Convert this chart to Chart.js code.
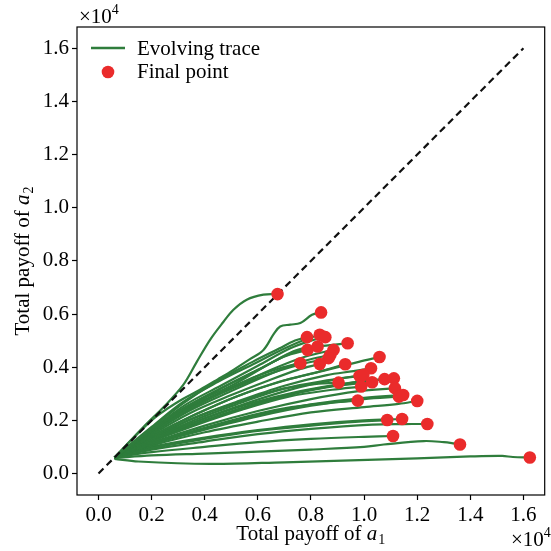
<!DOCTYPE html>
<html>
<head>
<meta charset="utf-8">
<script src="https://cdn.jsdelivr.net/npm/chart.js@4"></script>
<style>
  html, body { margin: 0; padding: 0; background: #fff; }
  canvas { display: block; }
</style>
</head>
<body>
<canvas id="payoffChart" width="551" height="551"></canvas>
<script>
// Ticks shared by both axes (values in units of 10^4)
const tickValues = [0.0, 0.2, 0.4, 0.6, 0.8, 1.0, 1.2, 1.4, 1.6];

// Diagonal reference a1 = a2
const diagX = [0.0, 1.6];
const diagY = [0.0, 1.6];

// Payoff trajectories [a1, a2]; the last pair of each is the final point
const traces = [
  [[0.06,0.06],[0.17,0.176],[0.25,0.255],[0.319,0.333],[0.37,0.42],[0.42,0.503],[0.47,0.57],[0.508,0.616],[0.558,0.654],[0.621,0.673],[0.674,0.675]],
  [[0.06,0.06],[0.2,0.2],[0.3,0.27],[0.382,0.315],[0.45,0.355],[0.508,0.39],[0.57,0.43],[0.621,0.465],[0.66,0.525],[0.684,0.553],[0.722,0.56],[0.76,0.566],[0.804,0.597],[0.838,0.606]],
  [[0.06,0.06],[0.2,0.17],[0.32,0.265],[0.45,0.35],[0.58,0.42],[0.68,0.47],[0.74,0.5],[0.785,0.513]],
  [[0.06,0.06],[0.2,0.175],[0.32,0.27],[0.45,0.345],[0.58,0.41],[0.7,0.47],[0.78,0.505],[0.833,0.522]],
  [[0.06,0.06],[0.2,0.165],[0.33,0.26],[0.46,0.33],[0.6,0.405],[0.72,0.47],[0.8,0.5],[0.854,0.513]],
  [[0.06,0.06],[0.2,0.16],[0.34,0.255],[0.5,0.33],[0.64,0.41],[0.75,0.465],[0.873,0.483],[0.938,0.49]],
  [[0.06,0.06],[0.2,0.16],[0.32,0.245],[0.46,0.32],[0.6,0.39],[0.7,0.44],[0.787,0.465]],
  [[0.06,0.06],[0.2,0.165],[0.33,0.25],[0.48,0.33],[0.62,0.4],[0.72,0.45],[0.825,0.478]],
  [[0.06,0.06],[0.2,0.155],[0.34,0.24],[0.5,0.32],[0.65,0.39],[0.78,0.44],[0.885,0.465]],
  [[0.06,0.06],[0.2,0.15],[0.34,0.235],[0.5,0.31],[0.66,0.38],[0.78,0.425],[0.873,0.446]],
  [[0.06,0.06],[0.2,0.155],[0.33,0.24],[0.48,0.31],[0.63,0.37],[0.76,0.41],[0.866,0.434]],
  [[0.06,0.06],[0.2,0.16],[0.32,0.24],[0.45,0.3],[0.58,0.36],[0.68,0.395],[0.76,0.415]],
  [[0.06,0.06],[0.2,0.145],[0.34,0.225],[0.5,0.295],[0.64,0.35],[0.75,0.39],[0.833,0.412]],
  [[0.06,0.06],[0.2,0.14],[0.36,0.22],[0.52,0.29],[0.68,0.345],[0.82,0.38],[0.873,0.395],[0.929,0.411]],
  [[0.06,0.06],[0.2,0.14],[0.36,0.22],[0.52,0.29],[0.7,0.35],[0.86,0.39],[0.98,0.42],[1.058,0.438]],
  [[0.06,0.06],[0.2,0.135],[0.36,0.21],[0.52,0.27],[0.7,0.33],[0.86,0.37],[0.96,0.385],[1.026,0.396]],
  [[0.06,0.06],[0.2,0.13],[0.36,0.2],[0.52,0.26],[0.7,0.32],[0.86,0.35],[0.983,0.367]],
  [[0.06,0.06],[0.2,0.125],[0.38,0.2],[0.56,0.265],[0.74,0.32],[0.9,0.355],[0.997,0.371]],
  [[0.06,0.06],[0.2,0.12],[0.36,0.18],[0.54,0.24],[0.72,0.29],[0.88,0.315],[0.989,0.327]],
  [[0.06,0.06],[0.2,0.125],[0.38,0.19],[0.56,0.25],[0.74,0.3],[0.9,0.33],[1.03,0.343]],
  [[0.06,0.06],[0.2,0.13],[0.38,0.2],[0.56,0.26],[0.76,0.31],[0.94,0.34],[1.077,0.355]],
  [[0.06,0.06],[0.2,0.125],[0.4,0.2],[0.6,0.265],[0.8,0.315],[0.98,0.345],[1.112,0.358]],
  [[0.06,0.06],[0.2,0.115],[0.4,0.18],[0.6,0.235],[0.8,0.28],[0.98,0.31],[1.116,0.321]],
  [[0.06,0.06],[0.2,0.11],[0.4,0.165],[0.6,0.215],[0.8,0.255],[1.0,0.28],[1.131,0.289]],
  [[0.06,0.06],[0.2,0.115],[0.4,0.17],[0.6,0.22],[0.8,0.26],[1.0,0.285],[1.147,0.295]],
  [[0.06,0.06],[0.2,0.13],[0.34,0.2],[0.5,0.26],[0.66,0.31],[0.8,0.335],[0.904,0.342]],
  [[0.06,0.06],[0.2,0.11],[0.36,0.16],[0.52,0.205],[0.7,0.245],[0.86,0.265],[0.976,0.274]],
  [[0.06,0.06],[0.2,0.105],[0.4,0.155],[0.6,0.195],[0.8,0.23],[1.0,0.25],[1.13,0.262],[1.2,0.273]],
  [[0.06,0.06],[0.2,0.095],[0.4,0.13],[0.6,0.16],[0.8,0.18],[0.98,0.195],[1.087,0.201]],
  [[0.06,0.06],[0.2,0.1],[0.4,0.135],[0.6,0.163],[0.8,0.185],[1.0,0.2],[1.143,0.205]],
  [[0.06,0.06],[0.2,0.09],[0.4,0.12],[0.6,0.148],[0.8,0.168],[1.03,0.184],[1.15,0.186],[1.238,0.186]],
  [[0.06,0.06],[0.2,0.08],[0.4,0.1],[0.6,0.118],[0.8,0.13],[1.0,0.138],[1.109,0.141]],
  [[0.06,0.058],[0.2,0.068],[0.4,0.075],[0.6,0.082],[0.8,0.09],[1.0,0.1],[1.074,0.109],[1.225,0.122],[1.3,0.118],[1.338,0.113],[1.361,0.109]],
  [[0.06,0.055],[0.15,0.045],[0.42,0.036],[0.7,0.042],[0.95,0.049],[1.2,0.057],[1.4,0.064],[1.52,0.066],[1.56,0.062],[1.624,0.06]]
];

const finalX = traces.map(t => t[t.length - 1][0]);
const finalY = traces.map(t => t[t.length - 1][1]);

const GREEN = '#2f7d3c';
const RED = '#ea2b2b';
const SERIF = '"Liberation Serif", "DejaVu Serif", serif';
const FONT_SIZE = 21;

const datasets = [];

datasets.push({
  label: 'Final point',
  data: finalX.map((x, i) => ({ x: x, y: finalY[i] })),
  showLine: false,
  pointRadius: 6.3,
  pointBackgroundColor: RED,
  pointBorderWidth: 0,
  order: 0
});

datasets.push({
  label: 'diagonal',
  data: diagX.map((x, i) => ({ x: x, y: diagY[i] })),
  showLine: true,
  borderColor: '#111',
  borderWidth: 2.2,
  borderDash: [7, 4.5],
  pointRadius: 0,
  order: 1
});

traces.forEach((t, i) => {
  datasets.push({
    label: i === 0 ? 'Evolving trace' : '',
    data: t.map(p => ({ x: p[0], y: p[1] })),
    showLine: true,
    borderColor: GREEN,
    borderWidth: 2.2,
    tension: 0.35,
    pointRadius: 0,
    order: 2
  });
});

// white page, frame, axis titles, offset labels and legend
const decorations = {
  id: 'decorations',
  beforeDraw(chart) {
    const c = chart.ctx;
    c.save();
    c.fillStyle = '#fff';
    c.fillRect(0, 0, chart.width, chart.height);
    c.restore();
  },
  afterDraw(chart) {
    const c = chart.ctx;
    const a = chart.chartArea;
    c.save();
    c.strokeStyle = '#000';
    c.lineWidth = 1.2;
    c.strokeRect(a.left, a.top, a.right - a.left, a.bottom - a.top);

    const font = (size, italic) => (italic ? 'italic ' : '') + size + 'px ' + SERIF;
    c.fillStyle = '#000';
    c.textBaseline = 'alphabetic';

    // label "Total payoff of a_n" drawn left to right from x0
    const drawTitle = (sub) => {
      c.font = font(FONT_SIZE);
      const w1 = c.measureText('Total payoff of ').width;
      c.font = font(FONT_SIZE, true);
      const w2 = c.measureText('a').width;
      c.font = font(14);
      const w3 = c.measureText(sub).width;
      return { w1, w2, w3, total: w1 + w2 + w3 + 1 };
    };
    const paintTitle = (x0, sub, m) => {
      c.textAlign = 'left';
      c.font = font(FONT_SIZE);
      c.fillText('Total payoff of ', x0, 0);
      c.font = font(FONT_SIZE, true);
      c.fillText('a', x0 + m.w1, 0);
      c.font = font(14);
      c.fillText(sub, x0 + m.w1 + m.w2 + 1, 4);
    };

    const cx = (a.left + a.right) / 2;
    const cy = (a.top + a.bottom) / 2;
    let m = drawTitle('1');
    c.save();
    c.translate(0, 540);
    paintTitle(cx - m.total / 2, '1', m);
    c.restore();

    m = drawTitle('2');
    c.save();
    c.translate(29, cy);
    c.rotate(-Math.PI / 2);
    paintTitle(-m.total / 2, '2', m);
    c.restore();

    // ×10^4 offset labels
    const offsetLabel = (x, y) => {
      c.textAlign = 'left';
      c.font = font(FONT_SIZE);
      c.fillText('×10', x, y);
      const w = c.measureText('×10').width;
      c.font = font(14);
      c.fillText('4', x + w, y - 9);
    };
    offsetLabel(a.left + 2, 23);
    offsetLabel(511, 546);

    // legend
    c.strokeStyle = GREEN;
    c.lineWidth = 2.5;
    c.beginPath();
    c.moveTo(a.left + 14, 48);
    c.lineTo(a.left + 48, 48);
    c.stroke();
    c.fillStyle = RED;
    c.beginPath();
    c.arc(a.left + 31, 72, 6.3, 0, Math.PI * 2);
    c.fill();
    c.fillStyle = '#000';
    c.font = font(FONT_SIZE);
    c.fillText('Evolving trace', a.left + 60, 55);
    c.fillText('Final point', a.left + 60, 78);
    c.restore();
  }
};

const axisCommon = {
  type: 'linear',
  min: -0.081,
  max: 1.68,
  afterBuildTicks: s => { s.ticks = tickValues.map(v => ({ value: v })); },
  ticks: {
    callback: v => Number(v).toFixed(1),
    color: '#000',
    font: { family: SERIF, size: FONT_SIZE },
    autoSkip: false,
    maxRotation: 0,
    padding: 3
  },
  grid: {
    drawOnChartArea: false,
    drawTicks: true,
    tickLength: 5,
    tickColor: '#000',
    tickWidth: 1.2
  },
  border: { display: false }
};

new Chart(document.getElementById('payoffChart').getContext('2d'), {
  type: 'scatter',
  data: { datasets: datasets },
  options: {
    responsive: false,
    animation: false,
    events: [],
    layout: { padding: { top: 27, right: 6, left: 0, bottom: 0 } },
    plugins: { legend: { display: false }, tooltip: { enabled: false } },
    scales: {
      x: Object.assign({}, axisCommon, { afterFit: s => { s.height = 56; } }),
      y: Object.assign({}, axisCommon, { afterFit: s => { s.width = 77; } })
    }
  },
  plugins: [decorations]
});
</script>
</body>
</html>
